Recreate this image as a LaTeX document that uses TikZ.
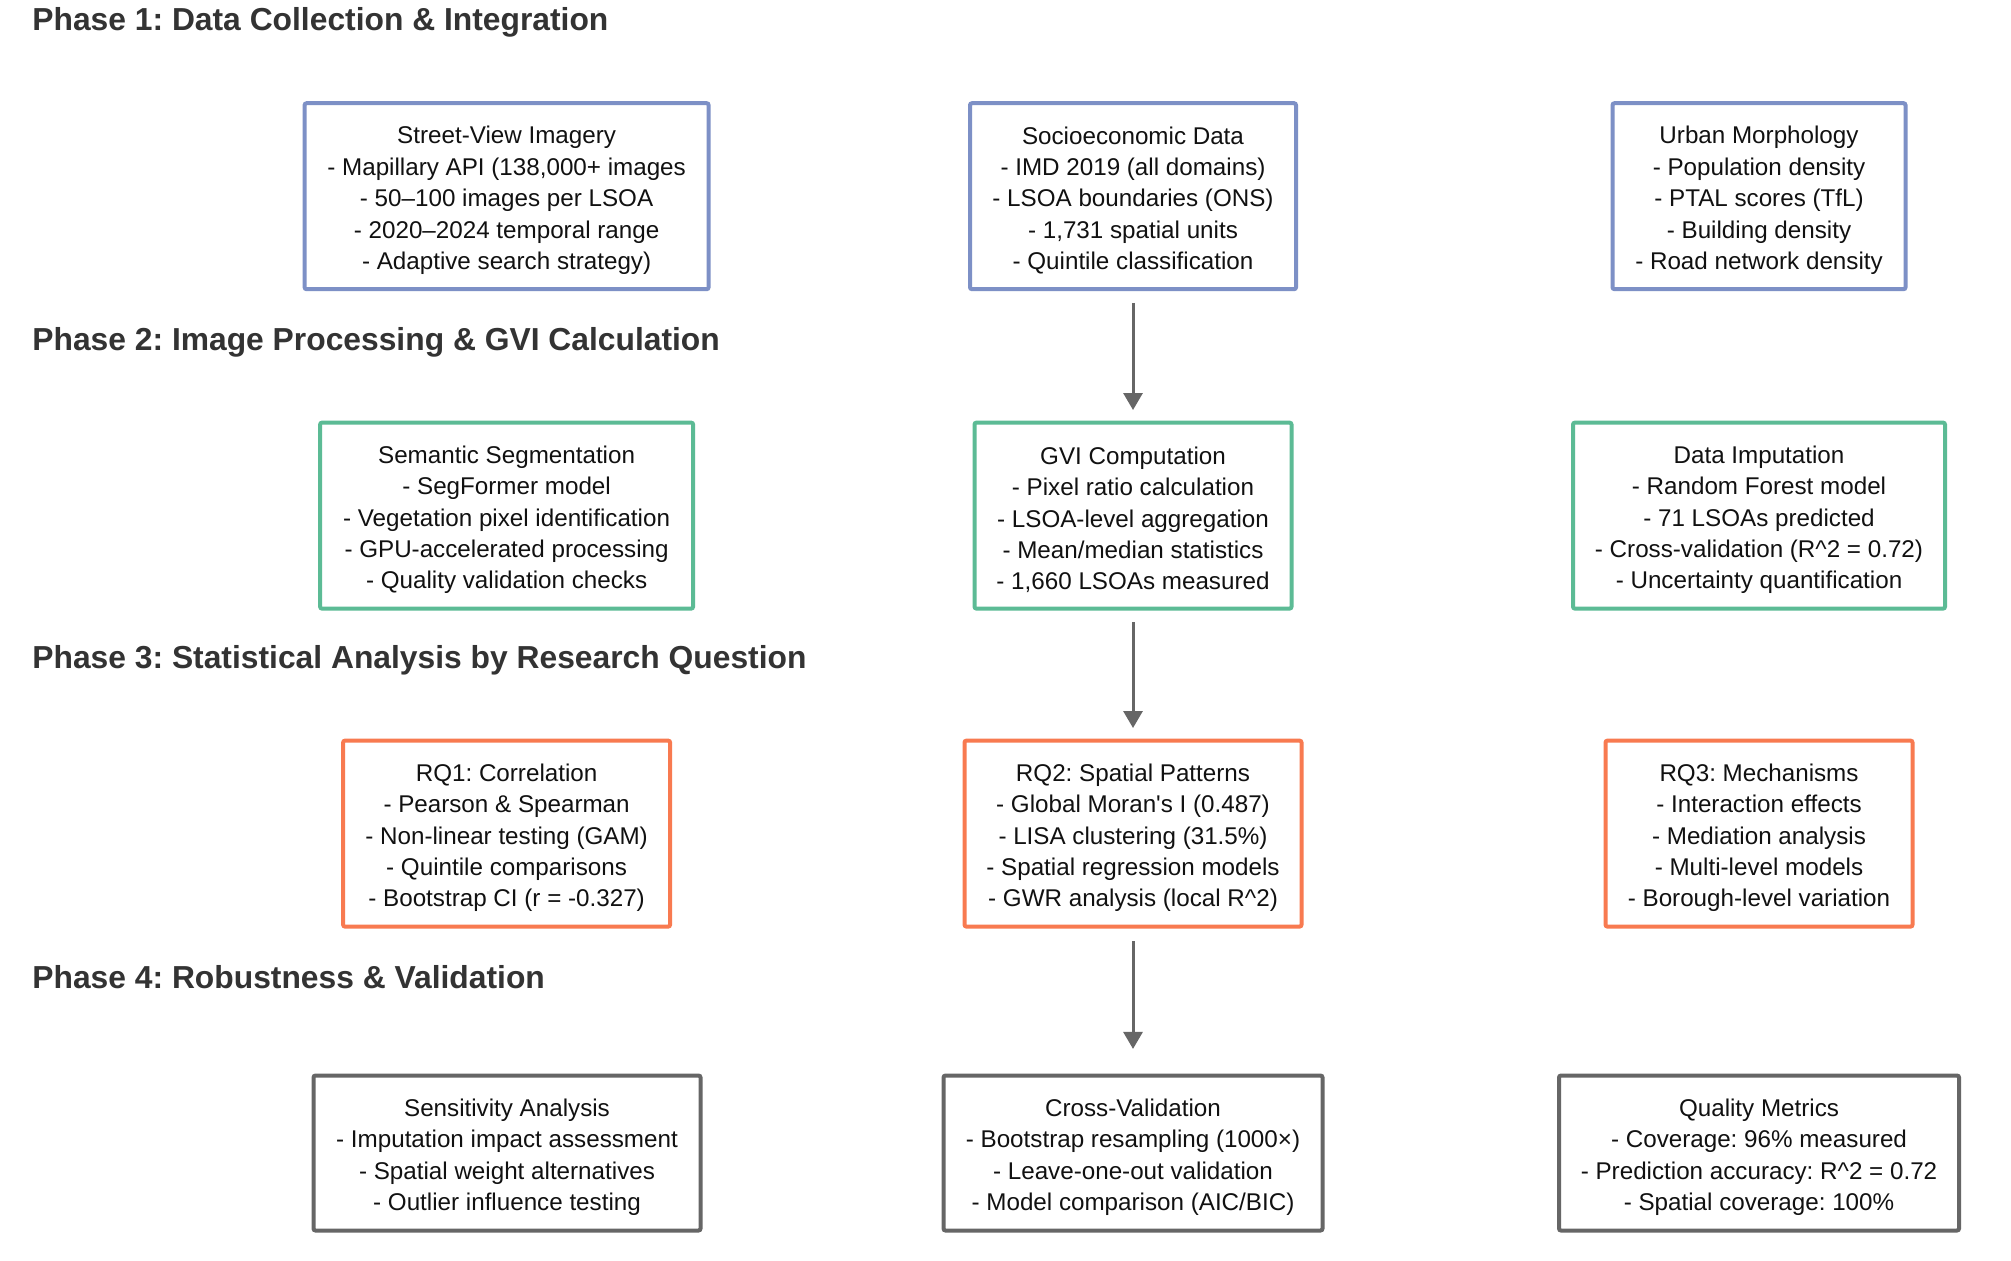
\documentclass[tikz,border=0pt]{standalone}
\usepackage{fontspec}
\setmainfont{Liberation Sans}
\frenchspacing
\usetikzlibrary{arrows.meta}

\definecolor{collectblue}{HTML}{7D90C6}
\definecolor{processgreen}{HTML}{5CBB95}
\definecolor{analysisorange}{HTML}{F87A50}
\definecolor{robustgray}{HTML}{666666}
\definecolor{titlegray}{HTML}{333333}
\definecolor{bodyblack}{HTML}{111111}

% extra head room above the first line of each box
\newcommand{\boxstrut}{\rule{0pt}{13pt}}

\tikzset{
  phasetitle/.style={anchor=base west, inner sep=0pt, text=titlegray,
    font=\fontsize{15.9pt}{19pt}\selectfont\bfseries},
  stagebox/.style={draw, line width=2pt, rounded corners=1pt, fill=white,
    align=center, text=bodyblack, inner xsep=4pt, inner ysep=2pt,
    font=\fontsize{12.1pt}{15.7pt}\selectfont},
  tallbox/.style={stagebox, minimum height=93pt},
  shortbox/.style={stagebox, minimum height=77.5pt},
  collectbox/.style={tallbox, draw=collectblue},
  processbox/.style={tallbox, draw=processgreen},
  analysisbox/.style={tallbox, draw=analysisorange},
  robustbox/.style={shortbox, draw=robustgray},
  flow/.style={draw=robustgray, line width=1.5pt,
    -{Triangle[length=8.5pt,width=9.5pt]}}
}

\begin{document}
\begin{tikzpicture}[x=0.5pt, y=-0.5pt]
  \useasboundingbox[fill=white] (0,0) rectangle (2011,1260);

  % phase headings
  \node[phasetitle] (p1) at (32,30.4) {Phase 1: Data Collection \& Integration};
  \node[phasetitle] (p2) at (32,350) {Phase 2: Image Processing \& GVI Calculation};
  \node[phasetitle] (p3) at (32,668) {Phase 3: Statistical Analysis by Research Question};
  \node[phasetitle] (p4) at (32,988.7) {Phase 4: Robustness \& Validation};

  % phase 1: data collection
  \node[collectbox, minimum width=202pt] (sv) at (506.6,196.2)
    {\boxstrut Street-View Imagery\\- Mapillary API (138,000+ images\\- 50–100 images per LSOA\\- 2020–2024 temporal range\\- Adaptive search strategy)};
  \node[collectbox, minimum width=163pt] (se) at (1133,196.2)
    {\boxstrut Socioeconomic Data\\- IMD 2019 (all domains)\\- LSOA boundaries (ONS)\\- 1,731 spatial units\\- Quintile classification};
  \node[collectbox, minimum width=146.5pt] (um) at (1759,196.2)
    {\boxstrut Urban Morphology\\- Population density\\- PTAL scores (TfL)\\- Building density\\- Road network density};

  % phase 2: processing
  \node[processbox, minimum width=186.5pt] (seg) at (506.6,515.6)
    {\boxstrut Semantic Segmentation\\- SegFormer model\\- Vegetation pixel identification\\- GPU-accelerated processing\\- Quality validation checks};
  \node[processbox, minimum width=158.5pt] (gvi) at (1133,515.6)
    {\boxstrut GVI Computation\\- Pixel ratio calculation\\- LSOA-level aggregation\\- Mean/median statistics\\- 1,660 LSOAs measured};
  \node[processbox, minimum width=186pt] (imp) at (1759,515.6)
    {\boxstrut Data Imputation\\- Random Forest model\\- 71 LSOAs predicted\\- Cross-validation (R\textasciicircum 2 = 0.72)\\- Uncertainty quantification};

  % phase 3: research questions
  \node[analysisbox, minimum width=163.5pt] (rq1) at (506.6,833.6)
    {\boxstrut RQ1: Correlation\\- Pearson \& Spearman\\- Non-linear testing (GAM)\\- Quintile comparisons\\- Bootstrap CI (r = -0.327)};
  \node[analysisbox, minimum width=168.5pt] (rq2) at (1133,833.6)
    {\boxstrut RQ2: Spatial Patterns\\- Global Moran\textquotesingle s I (0.487)\\- LISA clustering (31.5\%)\\- Spatial regression models\\- GWR analysis (local R\textasciicircum 2)};
  \node[analysisbox, minimum width=153.5pt] (rq3) at (1759,833.6)
    {\boxstrut RQ3: Mechanisms\\- Interaction effects\\- Mediation analysis\\- Multi-level models\\- Borough-level variation};

  % phase 4: robustness
  \node[robustbox, minimum width=193.5pt] (sens) at (507,1153)
    {\boxstrut Sensitivity Analysis\\- Imputation impact assessment\\- Spatial weight alternatives\\- Outlier influence testing};
  \node[robustbox, minimum width=189.5pt] (cv) at (1133,1153)
    {\boxstrut Cross-Validation\\- Bootstrap resampling (1000×)\\- Leave-one-out validation\\- Model comparison (AIC/BIC)};
  \node[robustbox, minimum width=200pt] (qm) at (1759,1153)
    {\boxstrut Quality Metrics\\- Coverage: 96\% measured\\- Prediction accuracy: R\textasciicircum 2 = 0.72\\- Spatial coverage: 100\%};

  % flow between phases
  \draw[flow, shorten <=5.8pt, shorten >=5.3pt] (se.south) -- (gvi.north);
  \draw[flow, shorten <=5.8pt, shorten >=5.3pt] (gvi.south) -- (rq2.north);
  \draw[flow, shorten <=6.3pt, shorten >=12.3pt] (rq2.south) -- (cv.north);
\end{tikzpicture}
\end{document}
